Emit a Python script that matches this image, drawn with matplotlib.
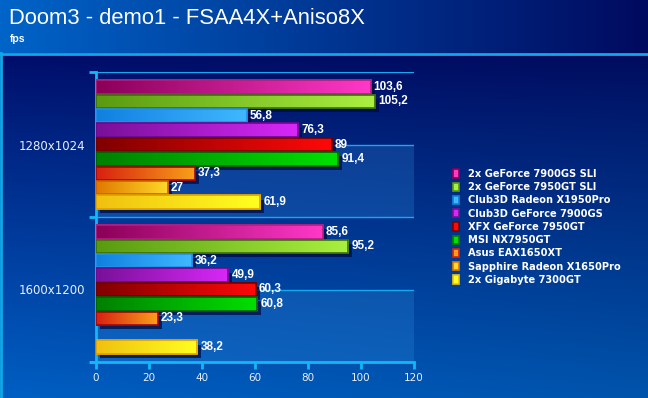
import numpy as np
import matplotlib
matplotlib.use('Agg')
import matplotlib.pyplot as plt
from matplotlib.patches import Patch
from matplotlib.colors import LinearSegmentedColormap
import matplotlib.patheffects as pe

# data
resolutions = ['1280x1024', '1600x1200']
cards = ['2x GeForce 7900GS SLI', '2x GeForce 7950GT SLI', 'Club3D Radeon X1950Pro',
         'Club3D GeForce 7900GS', 'XFX GeForce 7950GT', 'MSI NX7950GT',
         'Asus EAX1650XT', 'Sapphire Radeon X1650Pro', '2x Gigabyte 7300GT']
fps_1280 = [103.6, 105.2, 56.8, 76.3, 89, 91.4, 37.3, 27, 61.9]
fps_1600 = [85.6, 95.2, 36.2, 49.9, 60.3, 60.8, 23.3, np.nan, 38.2]
xticks = [0, 20, 40, 60, 80, 100, 120]

# gradient start/end and edge colour per card
grads = [('#8a0058', '#ff38c8', '#b02080'),
         ('#5a9a10', '#aaf040', '#3c7008'),
         ('#1080e0', '#40b8ff', '#2090e8'),
         ('#781098', '#d828f8', '#6a0890'),
         ('#800000', '#ff0808', '#700000'),
         ('#008000', '#00e000', '#006000'),
         ('#d82010', '#f8a018', '#a00808'),
         ('#e07800', '#ffd828', '#d06000'),
         ('#f0c010', '#ffff20', '#e0a000')]

W, H = 648, 398
fig = plt.figure(figsize=(W / 100, H / 100), dpi=100)

# background
bg = fig.add_axes([0, 0, 1, 1])
bg.set_xlim(0, W)
bg.set_ylim(H, 0)
bg.axis('off')
xx = np.linspace(0, 1, 200)
yy = np.linspace(0, 1, 200)
X, Y = np.meshgrid(xx, yy)
top_l = np.array([0, 100, 200]) / 255
top_r = np.array([0, 10, 95]) / 255
hdr = top_l[None, None, :] * (1 - X[..., None]) + top_r[None, None, :] * X[..., None]
bg.imshow(hdr, extent=[0, W, 53, 0], aspect='auto', zorder=0)
p_top = np.array([0, 12, 105]) / 255
p_bot = np.array([0, 95, 195]) / 255
t = Y[..., None] ** 0.9
pan = p_top * (1 - t) + p_bot * t
pan = pan * (1 - 0.12 * X[..., None])
bg.imshow(pan, extent=[0, W, H, 53], aspect='auto', zorder=0)
bg.plot([0, W], [53.5, 53.5], color='#10a8e8', lw=2, zorder=1)
bg.plot([1, 1], [53, H], color='#10a8e8', lw=2, zorder=1)

fig.text(9 / W, 1 - 19 / H, 'Doom3 - demo1 - FSAA4X+Aniso8X', color='white',
         fontsize=15.8, family='Liberation Sans', va='center', ha='left')
fig.text(10 / W, 1 - 39 / H, 'fps', color='white', fontsize=7.5, fontweight='bold',
         family='Liberation Sans', va='center', ha='left')

ax = fig.add_axes([96 / W, 1 - 362 / H, (414 - 96) / W, (362 - 72) / H])
ax.set_facecolor('none')
ax.set_xlim(0, 120)
ax.set_ylim(1.5, -0.5)

# bands and grid lines
for y0 in [0, 1]:
    ax.axhspan(y0, y0 + 0.5, color='#3090e0', alpha=0.25, lw=0, zorder=0)
for yl in [-0.5, 0, 0.5, 1.0]:
    ax.axhline(yl, color='#18a8f0', lw=1, zorder=1)

n = len(cards)
slot = 0.0993
hgt = 0.092
series = np.array([fps_1280, fps_1600])
for i in range(n):
    ypos = np.arange(2) - slot * n / 2 + slot * (i + 0.5)
    c0, c1, ec = grads[i]
    bars = ax.barh(ypos, series[:, i], height=hgt, color=c1, edgecolor=ec, lw=1.2,
                   zorder=3,
                   path_effects=[pe.SimplePatchShadow(offset=(3, -3),
                                                      shadow_rgbFace='#000a40', alpha=0.75),
                                 pe.Normal()])
    cmap = LinearSegmentedColormap.from_list('g%d' % i, [c0, c1])
    for b, v in zip(bars, series[:, i]):
        if np.isnan(v):
            continue
        x0, y0 = b.get_x(), b.get_y()
        w, h = b.get_width(), b.get_height()
        im = ax.imshow(np.linspace(0, 1, 128)[None, :], cmap=cmap, aspect='auto',
                       extent=[x0, x0 + w, y0 + h, y0], zorder=4, interpolation='bilinear')
        im.set_clip_path(b)
        ax.barh(b.get_y() + h / 2, w, height=h, fill=False, edgecolor=ec,
                lw=1.2, zorder=5)
        ax.text(x0 + w + 1.2, y0 + h / 2, ('%g' % v).replace('.', ','),
                color='white', fontsize=8.5, fontweight='bold',
                family='Liberation Sans', va='center', ha='left', zorder=6)

ax.set_yticks([0, 1])
ax.set_yticklabels(resolutions)
ax.set_yticks([-0.5, 0.5, 1.5], minor=True)
ax.set_xticks(xticks)
ax.tick_params(axis='y', which='major', length=0, pad=8, labelcolor='#e8f0ff',
               labelsize=8.5)
ax.tick_params(axis='y', which='minor', length=5, width=2, color='#10b8f8')
ax.tick_params(axis='x', length=5, width=2, color='#10b8f8', labelcolor='#e8f0ff',
               labelsize=7.5, pad=3)
for s in ['top', 'right']:
    ax.spines[s].set_visible(False)
for s in ['left', 'bottom']:
    ax.spines[s].set_color('#10b8f8')
    ax.spines[s].set_linewidth(2)
ax.spines['bottom'].set_bounds(-2, 120)
for lab in ax.get_xticklabels() + ax.get_yticklabels():
    lab.set_family('DejaVu Sans')

handles = [Patch(facecolor=g[1], edgecolor=g[0], lw=1.2) for g in grads]
fig.legend(handles, cards, loc='upper left', bbox_to_anchor=(444 / W, 1 - 160 / H),
           frameon=False, handlelength=0.6, handleheight=0.9, handletextpad=0.9,
           labelspacing=0.33, labelcolor='white',
           prop={'family': 'DejaVu Sans', 'weight': 'bold', 'size': 7.1})

fig.savefig('out.png', dpi=100)
